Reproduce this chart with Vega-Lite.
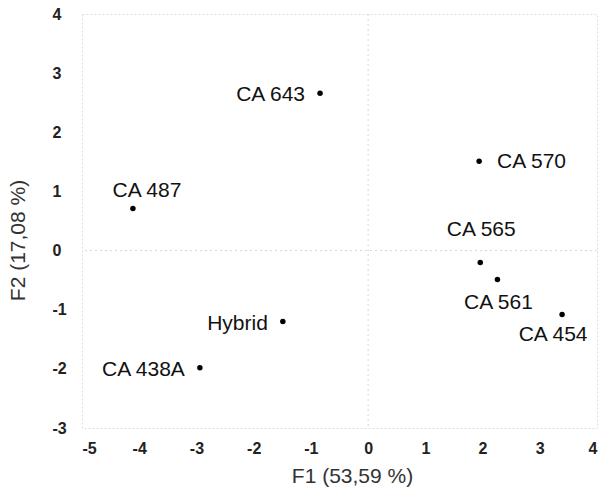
{
  "$schema": "https://vega.github.io/schema/vega-lite/v6.json",
  "width": 515,
  "height": 414,
  "autosize": {"type": "none"},
  "padding": {"left": 82, "top": 14, "right": 1, "bottom": 68},
  "background": "white",
  "config": {
    "view": {"stroke": "#d3e1ee", "strokeDash": [2, 2], "strokeWidth": 1},
    "axis": {"grid": false, "ticks": false, "tickSize": 0, "domain": false}
  },
  "datasets": {
    "pts": [
      {"name": "CA 643", "F1": -0.84, "F2": 2.66},
      {"name": "CA 570", "F1": 1.94, "F2": 1.51},
      {"name": "CA 487", "F1": -4.11, "F2": 0.71},
      {"name": "CA 565", "F1": 1.96, "F2": -0.2},
      {"name": "CA 561", "F1": 2.26, "F2": -0.49},
      {"name": "CA 454", "F1": 3.39, "F2": -1.08},
      {"name": "Hybrid", "F1": -1.49, "F2": -1.2},
      {"name": "CA 438A", "F1": -2.94, "F2": -1.98}
    ],
    "zero": [{"v": 0}]
  },
  "layer": [
    {
      "data": {"name": "zero"},
      "mark": {"type": "rule", "color": "#c9daea", "strokeDash": [2, 3], "strokeWidth": 1},
      "encoding": {"x": {"field": "v", "type": "quantitative", "scale": {"domain": [-5, 4], "nice": false}}}
    },
    {
      "data": {"name": "zero"},
      "mark": {"type": "rule", "color": "#c9daea", "strokeDash": [2, 3], "strokeWidth": 1},
      "encoding": {"y": {"field": "v", "type": "quantitative", "scale": {"domain": [-3, 4], "nice": false}}}
    },
    {
      "data": {"name": "pts"},
      "mark": {"type": "point", "filled": true, "color": "#000000", "size": 30, "opacity": 1},
      "encoding": {
        "x": {
          "field": "F1", "type": "quantitative",
          "scale": {"domain": [-5, 4], "nice": false},
          "axis": {
            "values": [-5, -4, -3, -2, -1, 0, 1, 2, 3, 4],
            "labelExpr": "'' + datum.value",
            "title": "F1 (53,59 %)",
            "labelFont": "Liberation Sans", "labelFontWeight": "bold", "labelFontSize": 16, "labelColor": "#222222",
            "labelPadding": 12,
            "titleFont": "Liberation Sans", "titleFontWeight": "normal", "titleFontSize": 21, "titleColor": "#333333",
            "titlePadding": 9, "titleX": 270
          }
        },
        "y": {
          "field": "F2", "type": "quantitative",
          "scale": {"domain": [-3, 4], "nice": false},
          "axis": {
            "values": [-3, -2, -1, 0, 1, 2, 3, 4],
            "labelExpr": "'' + datum.value",
            "title": "F2 (17,08 %)",
            "labelFont": "Liberation Sans", "labelFontWeight": "bold", "labelFontSize": 16, "labelColor": "#222222",
            "labelAlign": "left", "labelPadding": 30,
            "titleFont": "Liberation Sans", "titleFontWeight": "normal", "titleFontSize": 21, "titleColor": "#333333",
            "titleX": -54, "titleY": 226
          }
        }
      }
    },
    {
      "data": {"name": "pts"},
      "transform": [{"filter": "datum.name == 'CA 643' || datum.name == 'Hybrid' || datum.name == 'CA 438A'"}],
      "mark": {"type": "text", "align": "right", "baseline": "middle", "dx": -15, "dy": 2, "font": "Liberation Sans", "fontSize": 21, "color": "#111111"},
      "encoding": {
        "x": {"field": "F1", "type": "quantitative"},
        "y": {"field": "F2", "type": "quantitative"},
        "text": {"field": "name"}
      }
    },
    {
      "data": {"name": "pts"},
      "transform": [{"filter": "datum.name == 'CA 570'"}],
      "mark": {"type": "text", "align": "left", "baseline": "middle", "dx": 18, "dy": 1, "font": "Liberation Sans", "fontSize": 21, "color": "#111111"},
      "encoding": {
        "x": {"field": "F1", "type": "quantitative"},
        "y": {"field": "F2", "type": "quantitative"},
        "text": {"field": "name"}
      }
    },
    {
      "data": {"name": "pts"},
      "transform": [{"filter": "datum.name == 'CA 487'"}],
      "mark": {"type": "text", "align": "center", "baseline": "middle", "dx": 14, "dy": -18, "font": "Liberation Sans", "fontSize": 21, "color": "#111111"},
      "encoding": {
        "x": {"field": "F1", "type": "quantitative"},
        "y": {"field": "F2", "type": "quantitative"},
        "text": {"field": "name"}
      }
    },
    {
      "data": {"name": "pts"},
      "transform": [{"filter": "datum.name == 'CA 565'"}],
      "mark": {"type": "text", "align": "center", "baseline": "middle", "dx": 1, "dy": -32, "font": "Liberation Sans", "fontSize": 21, "color": "#111111"},
      "encoding": {
        "x": {"field": "F1", "type": "quantitative"},
        "y": {"field": "F2", "type": "quantitative"},
        "text": {"field": "name"}
      }
    },
    {
      "data": {"name": "pts"},
      "transform": [{"filter": "datum.name == 'CA 561'"}],
      "mark": {"type": "text", "align": "center", "baseline": "middle", "dx": 1, "dy": 23, "font": "Liberation Sans", "fontSize": 21, "color": "#111111"},
      "encoding": {
        "x": {"field": "F1", "type": "quantitative"},
        "y": {"field": "F2", "type": "quantitative"},
        "text": {"field": "name"}
      }
    },
    {
      "data": {"name": "pts"},
      "transform": [{"filter": "datum.name == 'CA 454'"}],
      "mark": {"type": "text", "align": "center", "baseline": "middle", "dx": -9, "dy": 21, "font": "Liberation Sans", "fontSize": 21, "color": "#111111"},
      "encoding": {
        "x": {"field": "F1", "type": "quantitative"},
        "y": {"field": "F2", "type": "quantitative"},
        "text": {"field": "name"}
      }
    }
  ]
}
